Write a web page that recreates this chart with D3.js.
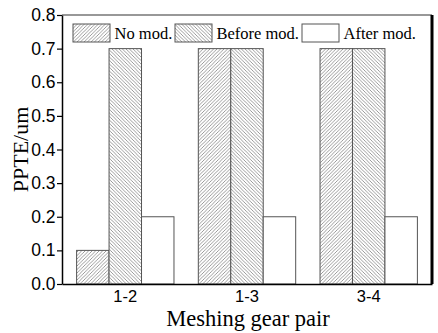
<!DOCTYPE html>
<html><head><meta charset="utf-8">
<script src="https://cdn.jsdelivr.net/npm/d3@7"></script>
<style>body{margin:0;background:#fff}svg{display:block}</style>
</head><body>
<script>
const categories = ["1-2", "1-3", "3-4"];
const seriesNames = ["No mod.", "Before mod.", "After mod."];
const noMod = [0.1, 0.7, 0.7];
const beforeMod = [0.7, 0.7, 0.7];
const afterMod = [0.2, 0.2, 0.2];
const yTicks = [0.0, 0.1, 0.2, 0.3, 0.4, 0.5, 0.6, 0.7, 0.8];

const series = [noMod, beforeMod, afterMod];
const W = 438, H = 333;
const m = {l: 62, r: 6, t: 15, b: 49};
const svg = d3.select("body").append("svg").attr("width", W).attr("height", H);
const defs = svg.append("defs");
function hatch(id, dir) {
  const s = 3.5;
  const p = defs.append("pattern").attr("id", id).attr("patternUnits", "userSpaceOnUse")
    .attr("width", s).attr("height", s);
  p.append("rect").attr("width", s).attr("height", s).attr("fill", "#fff");
  const d = dir > 0
    ? `M-1,1 l2,-2 M0,${s} l${s},-${s} M${s-1},${s+1} l2,-2`
    : `M-1,${s-1} l2,2 M0,0 l${s},${s} M${s-1},-1 l2,2`;
  p.append("path").attr("d", d).attr("stroke", "#7a7a7a").attr("stroke-width", 0.75);
}
hatch("h1", 1); hatch("h2", -1);
const fills = ["url(#h1)", "url(#h2)", "#fff"];

const x = d3.scaleBand().domain(categories).range([m.l, W - m.r]).paddingInner(0.2).paddingOuter(0.12);
const xs = d3.scaleBand().domain(d3.range(3)).range([0, x.bandwidth()]);
const y = d3.scaleLinear().domain([0, 0.8]).range([H - m.b, m.t]);

// bars
categories.forEach((c, i) => {
  series.forEach((s, j) => {
    svg.append("rect")
      .attr("x", x(c) + xs(j)).attr("y", y(s[i]))
      .attr("width", xs.bandwidth()).attr("height", y(0) - y(s[i]))
      .attr("fill", fills[j]).attr("stroke", "#555").attr("stroke-width", 1);
  });
});

// frame
svg.append("line").attr("x1", m.l).attr("x2", W - m.r).attr("y1", m.t).attr("y2", m.t)
  .attr("stroke", "#333").attr("stroke-width", 1.2);
svg.append("line").attr("x1", W - m.r).attr("x2", W - m.r).attr("y1", m.t).attr("y2", H - m.b)
  .attr("stroke", "#000").attr("stroke-width", 3);

// y axis
const ya = svg.append("g").attr("transform", `translate(${m.l},0)`)
  .call(d3.axisLeft(y).tickValues(yTicks).tickFormat(d3.format(".1f")).tickSize(5).tickSizeOuter(0));
ya.select(".domain").attr("stroke", "#000").attr("stroke-width", 1.5);
ya.selectAll(".tick line").attr("stroke", "#000").attr("stroke-width", 1.2);
ya.selectAll("text").attr("font-family", "Liberation Sans, Arial, sans-serif").attr("font-size", 17.5).attr("fill", "#000").attr("dx", 1.5);

// x axis
const xa = svg.append("g").attr("transform", `translate(0,${H - m.b})`)
  .call(d3.axisBottom(x).tickSize(0).tickSizeOuter(0));
xa.select(".domain").attr("stroke", "#000").attr("stroke-width", 1.5);
xa.selectAll("text").attr("font-family", "Liberation Sans, Arial, sans-serif").attr("font-size", 16.5)
  .attr("fill", "#000").attr("y", 17.5).attr("dy", 0);

// titles
svg.append("text").attr("x", 248).attr("y", 325.5).attr("text-anchor", "middle")
  .attr("font-family", "Liberation Serif, Times New Roman, serif").attr("font-size", 22.5).text("Meshing gear pair");
svg.append("text").attr("transform", `translate(28,${(m.t + H - m.b) / 2}) rotate(-90)`).attr("text-anchor", "middle")
  .attr("font-family", "Liberation Serif, Times New Roman, serif").attr("font-size", 22).text("PPTE/um");

// legend
const legX = [73, 175, 302];
seriesNames.forEach((n, j) => {
  svg.append("rect").attr("x", legX[j]).attr("y", 24).attr("width", 37).attr("height", 18)
    .attr("fill", fills[j]).attr("stroke", "#555").attr("stroke-width", 1);
  svg.append("text").attr("x", legX[j] + 41.5).attr("y", 38.5)
    .attr("font-family", "Liberation Serif, Times New Roman, serif").attr("font-size", 16.5).text(n);
});
</script>
</body></html>
